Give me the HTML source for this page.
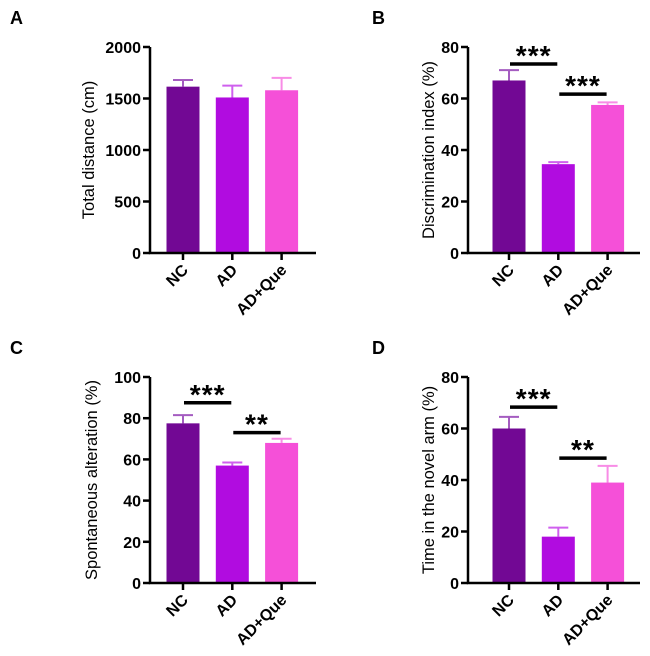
<!DOCTYPE html>
<html><head><meta charset="utf-8"><style>
body{margin:0;background:#fff}
svg{display:block;font-family:"Liberation Sans",Arial,sans-serif}
</style></head><body>
<svg id="fig" width="650" height="656" viewBox="0 0 650 656"></svg>
<script>
const categories=["NC","AD","AD+Que"];
const aValues=[1615,1510,1580];
const aErrors=[65,115,120];
const aTicks=[0,500,1000,1500,2000];
const bValues=[67,34.5,57.5];
const bErrors=[4,0.8,1];
const bTicks=[0,20,40,60,80];
const bSig=[[0,1,73.4,"***"],[1,2,61.7,"***"]];
const cValues=[77.5,57,68];
const cErrors=[4,1.5,2];
const cTicks=[0,20,40,60,80,100];
const cSig=[[0,1,87.5,"***"],[1,2,73,"**"]];
const dValues=[60,18,39];
const dErrors=[4.5,3.5,6.5];
const dTicks=[0,20,40,60,80];
const dSig=[[0,1,68.3,"***"],[1,2,48.5,"**"]];
const colors=["#720894","#b10ce0","#f550d8"];
const errColors=["#a45cc0","#cf60ee","#f88ce6"];
const NS="http://www.w3.org/2000/svg";
const svg=document.getElementById("fig");
function mk(tag,attrs,parent){const e=document.createElementNS(NS,tag);for(const k in attrs)e.setAttribute(k,attrs[k]);(parent||svg).appendChild(e);return e;}
function panel(id,letter,lx,ly,ax,off,axLen,titleOff,top,bot,values,errors,ticks,sig,title){
  const g=mk("g",{});
  
  
  const max=ticks[ticks.length-1];
  const y=v=>bot-(v/max)*(bot-top);
  const xc=i=>ax+off+i*49.3;
  const L=mk("text",{x:lx,y:ly,"font-size":18,"font-weight":"bold"},g);L.textContent=letter;
  
  
  values.forEach((v,i)=>{
    const ey=y(v+errors[i]);
    const el=mk("path",{d:`M${xc(i)} ${y(v)}V${ey}M${xc(i)-10} ${ey}H${xc(i)+10}`,stroke:errColors[i],"stroke-width":2,fill:"none"},g);
    
    
    const r=mk("rect",{x:xc(i)-16.5,y:y(v),width:33,height:bot-y(v),fill:colors[i]},g);
    
    
  });
  const axl=mk("path",{d:`M${ax} ${top}V${bot}H${ax+axLen}`,stroke:"#000","stroke-width":2.5,fill:"none"},g);
  
  
  ticks.forEach(t=>{
    mk("path",{d:`M${ax-7} ${y(t)}H${ax}`,stroke:"#000","stroke-width":2.5},g);
    const tx=mk("text",{x:ax-9,y:y(t)+6,"text-anchor":"end","font-size":16,"font-weight":"bold"},g);tx.textContent=t;
    
    
  });
  categories.forEach((c,i)=>{
    mk("path",{d:`M${xc(i)} ${bot}V${bot+7}`,stroke:"#000","stroke-width":2.5},g);
    const tx=mk("text",{x:xc(i)+6,y:bot+18,"text-anchor":"end","font-size":16,"font-weight":"bold",transform:`rotate(-45 ${xc(i)+6} ${bot+18})`},g);tx.textContent=c;
    
    
  });
  const ty=(top+bot)/2;
  const tx0=ax-titleOff;
  const tt=mk("text",{x:tx0,y:ty,"text-anchor":"middle","font-size":16.5,transform:`rotate(-90 ${tx0} ${ty})`},g);tt.textContent=title;
  
  
  (sig||[]).forEach(s=>{
    const x1=xc(s[0])+1,x2=xc(s[1])-1,yy=y(s[2]);
    const ln=mk("path",{d:`M${x1} ${yy}H${x2}`,stroke:"#000","stroke-width":3.5},g);
    
    
    const st=mk("text",{x:(x1+x2)/2,y:yy+1,"text-anchor":"middle","font-size":28,"font-weight":"bold","letter-spacing":"1"},g);st.textContent=s[3];
    
    
  });
}
panel("a","A",10,24,150,33,166,56,47,253,aValues,aErrors,aTicks,null,"Total distance (cm)");
panel("b","B",372,24,468,41,172,34,47,253,bValues,bErrors,bTicks,bSig,"Discrimination index (%)");
panel("c","C",10,354,150,33,166,53,377,583,cValues,cErrors,cTicks,cSig,"Spontaneous alteration (%)");
panel("d","D",372,354,468,41,172,34,377,583,dValues,dErrors,dTicks,dSig,"Time in the novel arm (%)");
</script>
</body></html>
